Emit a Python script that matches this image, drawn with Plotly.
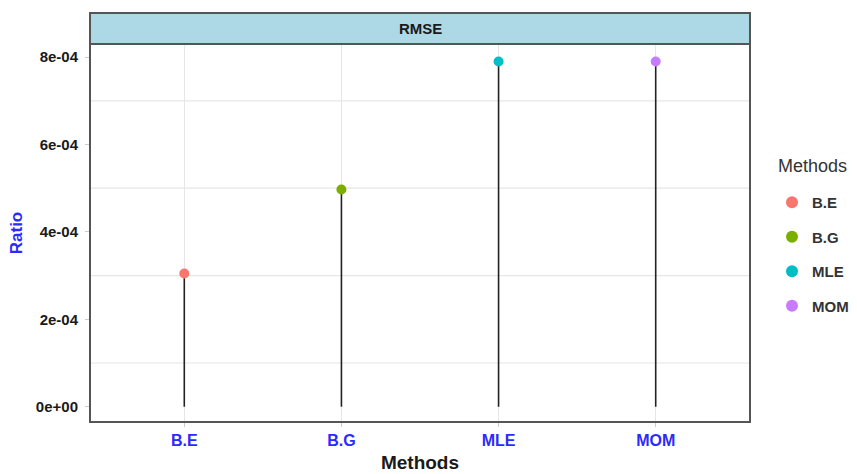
import plotly.graph_objects as go

# RMSE per estimation method
methods = ["B.E", "B.G", "MLE", "MOM"]
rmse = [3.05e-4, 4.97e-4, 7.90e-4, 7.90e-4]
colors = ["#F8766D", "#7CAE00", "#00BFC4", "#C77CFF"]

y_ticks = [0, 2e-4, 4e-4, 6e-4, 8e-4]
y_tick_text = ["0e+00", "2e-04", "4e-04", "6e-04", "8e-04"]
y_grid = [1e-4, 3e-4, 5e-4, 7e-4]

W, H = 857, 474
PLOT_W, PLOT_H = 660, 378

fig = go.Figure()

# lollipop stems
sx, sy = [], []
for m, v in zip(methods, rmse):
    sx += [m, m, None]
    sy += [0, v, None]
fig.add_trace(go.Scatter(x=sx, y=sy, mode="lines",
                         line=dict(color="#222222", width=1.6),
                         showlegend=False, hoverinfo="skip"))

# lollipop heads
for m, v, c in zip(methods, rmse, colors):
    fig.add_trace(go.Scatter(x=[m], y=[v], mode="markers",
                             name="<b>" + m + "</b>", legendgroup=m,
                             marker=dict(color=c, size=10)))

# horizontal grid lines between labelled ticks
for g in y_grid:
    fig.add_shape(type="line", xref="paper", yref="y", x0=0, x1=1, y0=g, y1=g,
                  line=dict(color="#E6E6E6", width=1.2), layer="below")

# panel border
fig.add_shape(type="rect", xref="paper", yref="paper", x0=0, x1=1, y0=0, y1=1,
              line=dict(color="#555555", width=2))
# facet strip
strip_h = 31 / PLOT_H
fig.add_shape(type="rect", xref="paper", yref="paper", x0=0, x1=1,
              y0=1, y1=1 + strip_h, fillcolor="#ADD8E6",
              line=dict(color="#555555", width=2))
fig.add_annotation(text="<b>RMSE</b>", xref="paper", yref="paper",
                   x=0.5, y=1 + strip_h / 2, xanchor="center", yanchor="middle",
                   showarrow=False,
                   font=dict(family="Arial", size=15, color="#1A1A1A"))

# legend heading
fig.add_annotation(text="Methods", xref="paper", yref="paper",
                   x=1 + 26 / PLOT_W, y=(422 - 166) / PLOT_H,
                   xanchor="left", yanchor="middle", showarrow=False,
                   font=dict(family="Arial", size=18, color="#333333"))

fig.update_layout(
    width=W, height=H,
    margin=dict(l=90, r=107, t=44, b=52, autoexpand=False),
    plot_bgcolor="white", paper_bgcolor="white",
    font=dict(family="Arial", color="#1A1A1A"),
    legend=dict(xref="container", yref="container",
                x=772 / W, xanchor="left",
                y=1 - 186 / H, yanchor="top",
                font=dict(size=15, color="#333333"),
                tracegroupgap=12, itemsizing="constant"),
    xaxis=dict(
        range=[-0.6, 3.6], showgrid=True, gridcolor="#E6E6E6", gridwidth=1.2,
        ticks="outside", ticklen=4, tickcolor="#CCCCCC",
        tickfont=dict(family="Arial", size=16, color="#2B2BFF"),
        tickprefix="<b>", ticksuffix="</b>",
        title=dict(text="<b>Methods</b>", font=dict(size=19, color="#1A1A1A"),
                   standoff=7),
        zeroline=False, showline=False, fixedrange=True, automargin=False,
    ),
    yaxis=dict(
        range=[-0.35e-4, 8.3e-4], tickvals=y_ticks,
        ticktext=["<b>" + t + "</b>" for t in y_tick_text],
        showgrid=False, zeroline=False,
        ticks="outside", ticklen=4, tickcolor="#CCCCCC",
        ticklabelstandoff=4,
        tickfont=dict(family="Arial", size=15, color="#1A1A1A"),
        title=dict(text="<b>Ratio</b>", font=dict(size=17, color="#2B2BFF"),
                   standoff=8),
        automargin=False,
    ),
)

fig.write_html("out.html")
